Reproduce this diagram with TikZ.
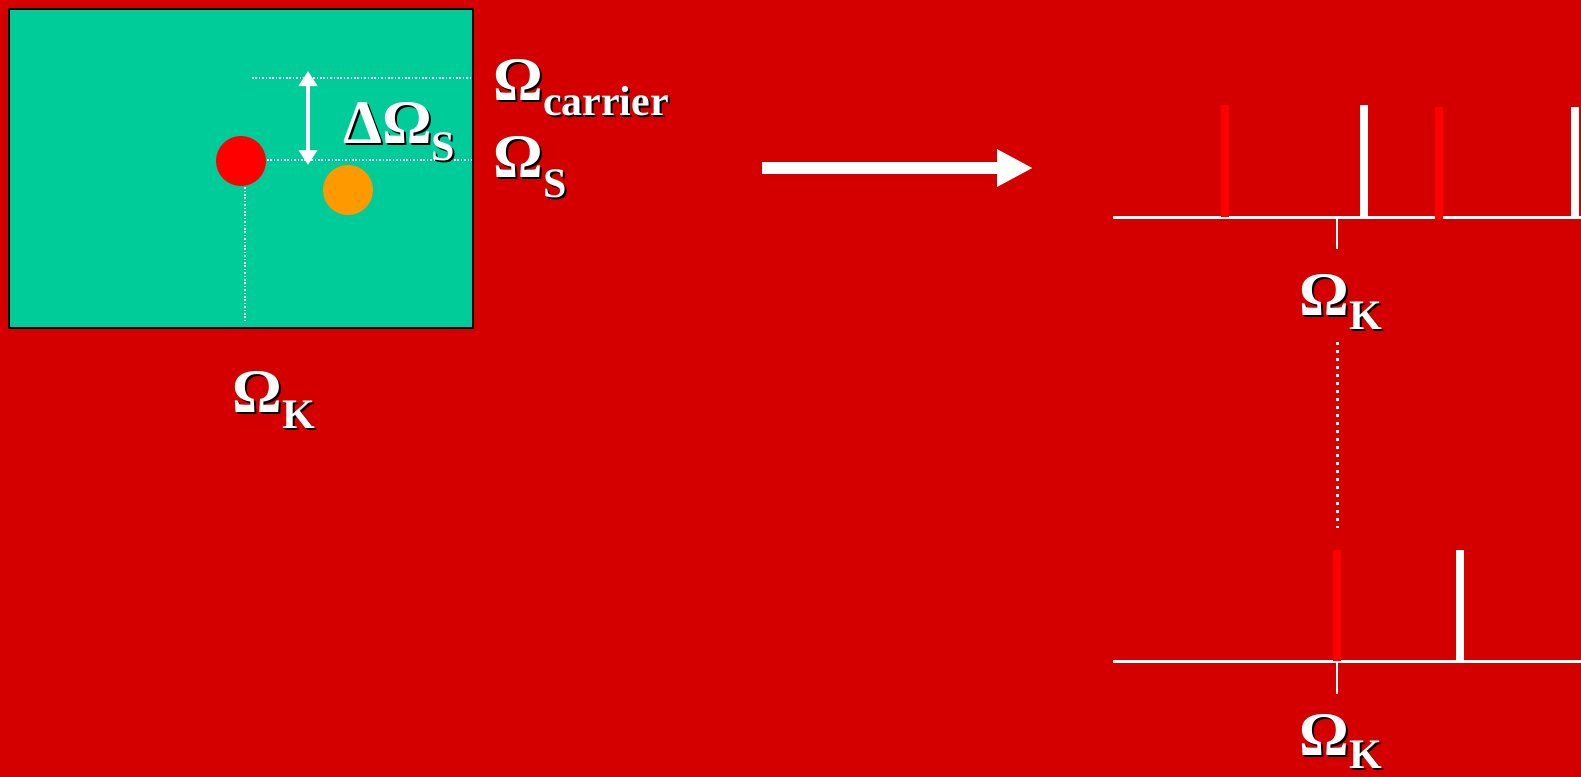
\documentclass[tikz,border=0pt]{standalone}
\usepackage{fontspec}
\setmainfont{Liberation Serif}
\usetikzlibrary{arrows.meta}
\definecolor{bgred}{RGB}{212,0,0}
\definecolor{panel}{RGB}{0,204,153}
\definecolor{orangedot}{RGB}{255,153,0}
\definecolor{brightred}{RGB}{255,0,0}
\newcommand\bigOm{{\fontsize{31}{31}\selectfont\bfseries Ω}}
\newcommand\bigDel{{\fontsize{31}{31}\selectfont\bfseries Δ}}
\newcommand\subx[2][8pt]{\raisebox{-#1}{\fontsize{21}{21}\selectfont\bfseries #2}}
\newcommand\shlabel[3]{%
  \node[lab,text=black,xshift=1pt,yshift=-1pt] at #2 {#3};
  \node[lab] (#1) at #2 {#3};}
\begin{document}
\begin{tikzpicture}[x=0.5pt,y=-0.5pt,
  lab/.style={anchor=base west,inner sep=0pt,text=white,font=\bfseries},
  dotline/.style={white,line width=0.8pt,dash pattern=on 0.8pt off 0.9pt},
  axis/.style={white,line width=1.5pt},
  tick/.style={white,line width=0.75pt},
  specred/.style={brightred,line width=4pt},
  specwhite/.style={white,line width=4pt}]
\useasboundingbox (0,0) rectangle (1581,777);
\fill[bgred] (0,0) rectangle (1581,777);
% panel
\draw[panel,fill=panel] (9,9) rectangle (473,328);
\draw[black,line width=1pt] (9,9) rectangle (473,328);
% dotted guides
\coordinate (g1a) at (252,78); \coordinate (g1b) at (472,78);
\coordinate (g2a) at (250,160); \coordinate (g2b) at (472,160);
\coordinate (g3a) at (245,160); \coordinate (g3b) at (245,320);
\draw[dotline] (g1a) -- (g1b);
\draw[dotline] (g2a) -- (g2b);
\draw[dotline] (g3a) -- (g3b);
% dots
\node[circle,fill=brightred,inner sep=0pt,minimum size=25pt] (reddot) at (241,161) {};
\node[circle,fill=orangedot,inner sep=0pt,minimum size=25pt] (orangedot) at (348,190) {};
% double arrow
\coordinate (da1) at (308,71); \coordinate (da2) at (308,165);
\draw[white,line width=2pt,{Triangle[width=9pt,length=7.5pt]}-{Triangle[width=9pt,length=7.5pt]}] (da1) -- (da2);
% labels
\shlabel{dOS}{(343,143)}{\bigDel\bigOm\subx[8.5pt]{S}}
\shlabel{carrier}{(493,100)}{\bigOm\subx[7.5pt]{carrier}}
\shlabel{OS}{(493,177)}{\bigOm\subx[10pt]{S}}
\shlabel{OKleft}{(232,412)}{\bigOm\subx{K}}
% big arrow
\coordinate (ba1) at (762,168); \coordinate (ba2) at (1033,168);
\draw[white,line width=6pt,-{Triangle[width=17.5pt,length=18pt]}] (ba1) -- (ba2);
% top spectrum
\coordinate (ax1a) at (1113,217); \coordinate (ax1b) at (1581,217);
\draw[axis] (ax1a) -- (ax1b);
\draw[specred] (1225,105) -- (1225,217);
\draw[specwhite] (1364,105) -- (1364,217);
\draw[specred] (1439,107) -- (1439,219);
\draw[specwhite] (1575,107) -- (1575,219);
\coordinate (t1a) at (1337,218); \coordinate (t1b) at (1337,249);
\draw[tick] (t1a) -- (t1b);
\shlabel{OKtop}{(1299,315)}{\bigOm\subx[7pt]{K}}
% vertical dots
\coordinate (vd1) at (1337,342); \coordinate (vd2) at (1337,528);
\draw[white,line width=1.5pt,dash pattern=on 1.5pt off 2.5pt] (vd1) -- (vd2);
% bottom spectrum
\coordinate (ax2a) at (1113,661.5); \coordinate (ax2b) at (1581,661.5);
\draw[axis] (ax2a) -- (ax2b);
\draw[specred] (1337,550) -- (1337,661);
\draw[specwhite] (1460,550) -- (1460,661);
\coordinate (t2a) at (1337,663); \coordinate (t2b) at (1337,694);
\draw[tick] (t2a) -- (t2b);
\shlabel{OKbot}{(1299,755)}{\bigOm\subx[6.5pt]{K}}
\end{tikzpicture}
\end{document}
